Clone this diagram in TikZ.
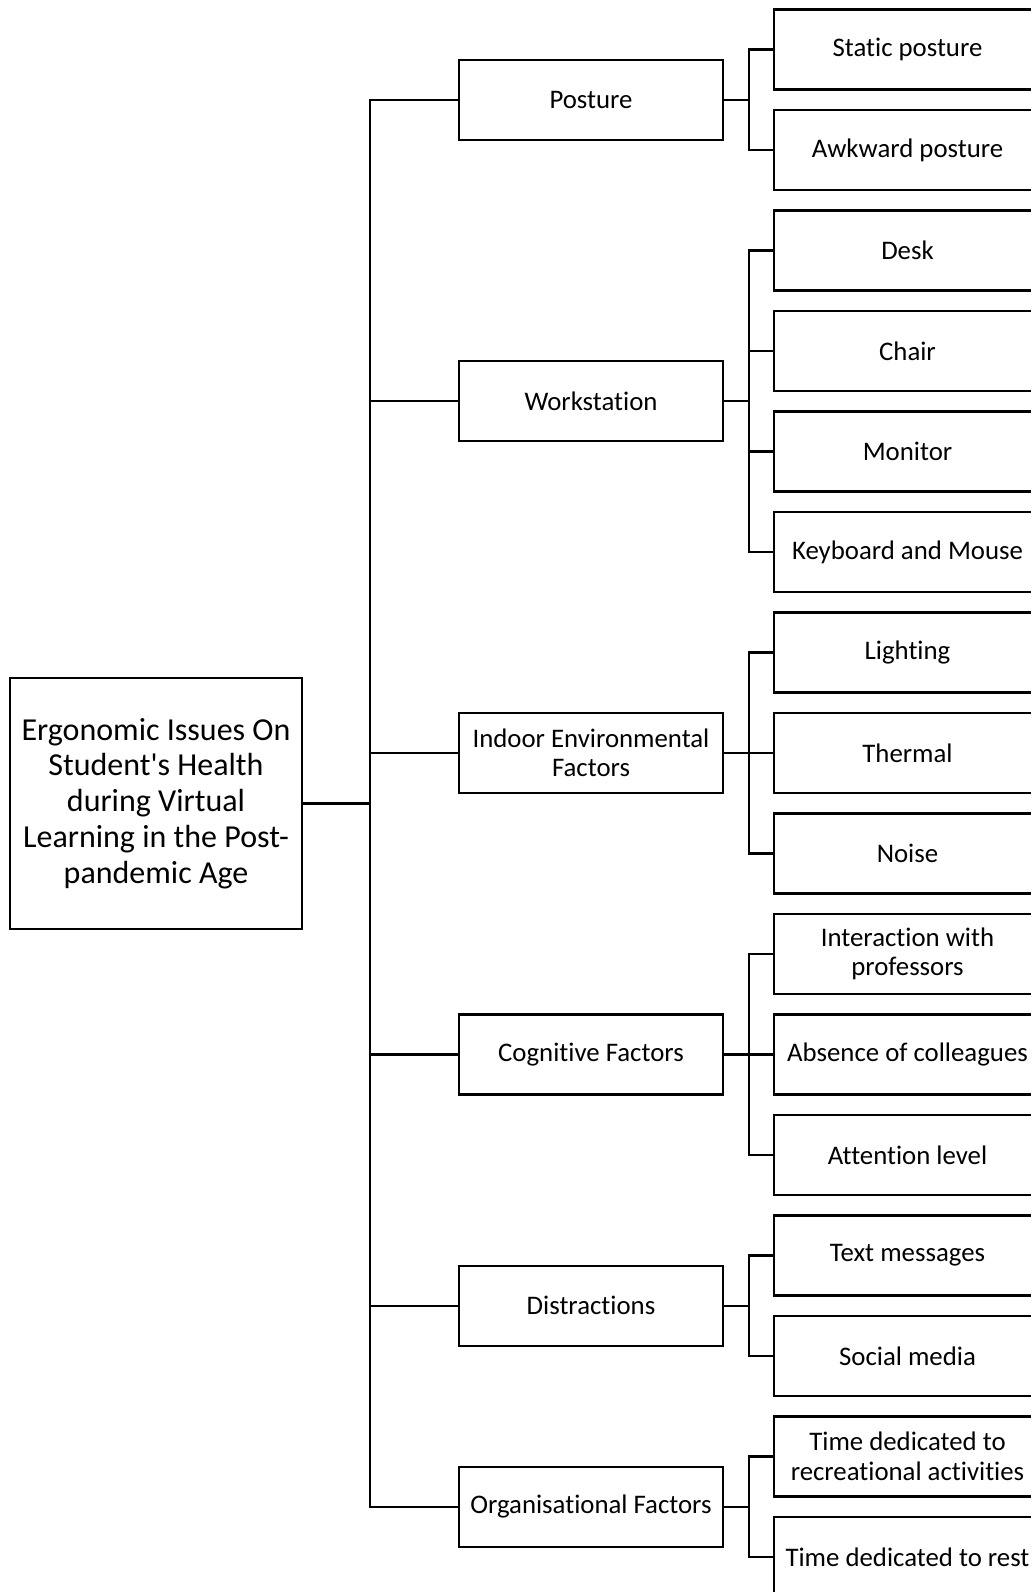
\documentclass[tikz,border=0pt]{standalone}
\usepackage{fontspec}
\setmainfont{Carlito}[Ligatures={TeXOff,NoCommon}]
\begin{document}
\begin{tikzpicture}[x=0.5pt,y=-0.5pt,
  conn/.style={line width=1.1pt},
  boxbase/.style={draw,line width=1.1pt,rectangle,inner sep=2pt,outer sep=0pt,align=center,anchor=center},
  rootbox/.style={boxbase,minimum width=146pt,minimum height=125.5pt,font=\fontsize{16}{17.9}\selectfont},
  midbox/.style={boxbase,minimum width=132pt,minimum height=40pt,font=\fontsize{13.4}{14.75}\selectfont},
  leafbox/.style={boxbase,minimum width=133.5pt,minimum height=40pt,font=\fontsize{13.4}{14.75}\selectfont}]
\useasboundingbox (0,0) rectangle (1031,1592);
\clip (0,0) rectangle (1031,1592);
\coordinate (t) at (370,0);
\coordinate (s) at (749,0);
% root
\node[rootbox] (root) at (156,803.4) {Ergonomic Issues On\\Student's Health\\during Virtual\\Learning in the Post-\\pandemic Age};
% level 1
\node[midbox] (p1) at (591,100) {Posture};
\node[midbox] (p2) at (591,401.25) {Workstation};
\node[midbox] (p3) at (591,753) {Indoor Environmental\\Factors};
\node[midbox] (p4) at (591,1054.5) {Cognitive Factors};
\node[midbox] (p5) at (591,1305.75) {Distractions};
\node[midbox] (p6) at (591,1506.75) {Organisational Factors};
% level 2
\node[leafbox] (c0) at (907.5,49.5) {Static posture};
\node[leafbox] (c1) at (907.5,150) {Awkward posture};
\node[leafbox] (c2) at (907.5,250.5) {Desk};
\node[leafbox] (c3) at (907.5,351) {Chair};
\node[leafbox] (c4) at (907.5,451.5) {Monitor};
\node[leafbox] (c5) at (907.5,552) {Keyboard and Mouse};
\node[leafbox] (c6) at (907.5,652.5) {Lighting};
\node[leafbox] (c7) at (907.5,753) {Thermal};
\node[leafbox] (c8) at (907.5,853.5) {Noise};
\node[leafbox] (c9) at (907.5,954) {Interaction with\\professors};
\node[leafbox] (c10) at (907.5,1054.5) {Absence of colleagues};
\node[leafbox] (c11) at (907.5,1155) {Attention level};
\node[leafbox] (c12) at (907.5,1255.5) {Text messages};
\node[leafbox] (c13) at (907.5,1356) {Social media};
\node[leafbox] (c14) at (907.5,1456.5) {Time dedicated to\\recreational activities};
\node[leafbox] (c15) at (907.5,1557) {Time dedicated to rest};
% root trunk
\draw[conn] (root.east) -- (root.east -| t);
\draw[conn] (p1.west) -- (p1.west -| t) -- (p6.west -| t) -- (p6.west);
\foreach \n in {p2,p3,p4,p5} \draw[conn] (\n.west -| t) -- (\n.west);
% sub trunks
\foreach \p/\a/\b in {p1/c0/c1,p2/c2/c5,p3/c6/c8,p4/c9/c11,p5/c12/c13,p6/c14/c15}{
  \draw[conn] (\p.east) -- (\p.east -| s);
  \draw[conn] (\a.west) -- (\a.west -| s) -- (\b.west -| s) -- (\b.west);
}
\foreach \n in {c3,c4,c7,c10} \draw[conn] (\n.west -| s) -- (\n.west);
\end{tikzpicture}
\end{document}
